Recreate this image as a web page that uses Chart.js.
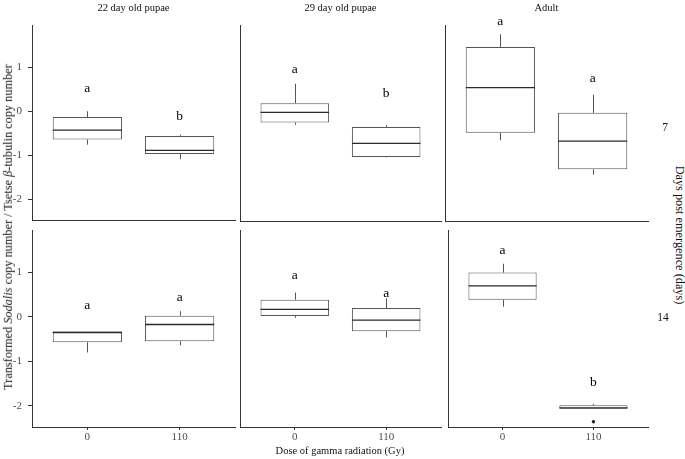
<!DOCTYPE html>
<html>
<head>
<meta charset="utf-8">
<script src="https://cdn.jsdelivr.net/npm/chart.js@4.4.1/dist/chart.umd.min.js"></script>
<style>
  html, body { margin: 0; padding: 0; background: #fff; }
  body { width: 685px; height: 459px; position: relative; overflow: hidden;
         font-family: "Liberation Serif", "Times New Roman", serif; }
  canvas { position: absolute; }
  .t { position: absolute; white-space: nowrap; color: #111; font-size: 10.5px;
       transform: translate(-50%, -50%); line-height: 1; }
  .rot-l { transform: translate(-50%, -50%) rotate(-90deg); }
  .rot-r { transform: translate(-50%, -50%) rotate(90deg); }
</style>
</head>
<body>
<div id="host"></div>
<script>
// ---------------- data ----------------
const stages = ['22 day old pupae', '29 day old pupae', 'Adult'];
const daysPost = ['7', '14'];
const doses = ['0', '110'];
const yTicks = [-2, -1, 0, 1];
const yRange = [-2.48, 1.96];

// indexed [row: days post emergence][stage][dose]
const whiskerLow = [
  [[-0.76, -1.09], [-0.30, -1.04], [-0.65, -1.43]],
  [[-0.80, -0.64], [-0.02, -0.46], [0.23, -2.07]]
];
const lowerQuartile = [
  [[-0.64, -0.97], [-0.25, -1.03], [-0.48, -1.31]],
  [[-0.57, -0.55], [0.02, -0.32], [0.39, -2.07]]
];
const medians = [
  [[-0.43, -0.89], [-0.02, -0.72], [0.54, -0.67]],
  [[-0.35, -0.17], [0.17, -0.07], [0.70, -2.05]]
];
const upperQuartile = [
  [[-0.13, -0.56], [0.19, -0.35], [1.46, -0.03]],
  [[-0.33, 0.03], [0.39, 0.20], [1.00, -1.99]]
];
const whiskerHigh = [
  [[0.00, -0.53], [0.63, -0.31], [1.75, 0.38]],
  [[-0.33, 0.13], [0.55, 0.42], [1.20, -1.96]]
];
const outlierValues = [
  [[[], []], [[], []], [[], []]],
  [[[], []], [[], []], [[], [-2.36]]]
];
const letters = [
  [['a', 'b'], ['a', 'b'], ['a', 'a']],
  [['a', 'a'], ['a', 'a'], ['a', 'b']]
];
const letterHeights = [
  [[0.51, -0.12], [0.96, 0.41], [2.04, 0.76]],
  [[0.27, 0.45], [0.94, 0.54], [1.49, -1.48]]
];

// ---------------- layout ----------------
const colLeft = [32, 240, 445];
const colRight = [235, 441, 648];
const rowTop = [25, 230];
const rowBottom = [221, 427];
const PADTOP = 16;
const AXIS = '#333333';
const BOX = '#555555';
const TICKTXT = '#4d4d4d';
const FONT = "'Liberation Serif', 'Times New Roman', serif";

Chart.defaults.font.family = FONT;

const boxExtras = {
  id: 'boxExtras',
  afterDatasetsDraw(chart, args, opts) {
    const { r, c } = opts;
    const ctx = chart.ctx;
    const x = chart.scales.x, y = chart.scales.y;
    const bars = chart.getDatasetMeta(0).data;
    ctx.save();
    bars.forEach((bar, i) => {
      const p = bar.getProps(['x', 'width'], true);
      const cx = Math.round(p.x) + 0.5;
      // whiskers
      ctx.strokeStyle = BOX;
      ctx.lineWidth = 1;
      ctx.beginPath();
      ctx.moveTo(cx, y.getPixelForValue(upperQuartile[r][c][i]));
      ctx.lineTo(cx, y.getPixelForValue(whiskerHigh[r][c][i]));
      ctx.moveTo(cx, y.getPixelForValue(lowerQuartile[r][c][i]));
      ctx.lineTo(cx, y.getPixelForValue(whiskerLow[r][c][i]));
      ctx.stroke();
      // median
      ctx.strokeStyle = '#2a2a2a';
      ctx.lineWidth = 1.3;
      const my = y.getPixelForValue(medians[r][c][i]);
      ctx.beginPath();
      ctx.moveTo(p.x - p.width / 2, my);
      ctx.lineTo(p.x + p.width / 2, my);
      ctx.stroke();
      // significance letter
      ctx.fillStyle = '#000';
      ctx.font = '13.5px ' + FONT;
      ctx.textAlign = 'center';
      ctx.textBaseline = 'middle';
      ctx.fillText(letters[r][c][i], x.getPixelForValue(i + 1), y.getPixelForValue(letterHeights[r][c][i]));
    });
    ctx.restore();
  }
};

const host = document.getElementById('host');
for (let r = 0; r < 2; r++) {
  for (let c = 0; c < 3; c++) {
    const axisW = c === 0 ? 32 : 1;
    const bottomH = r === 1 ? 24 : 12;
    const cv = document.createElement('canvas');
    const w = colRight[c] - colLeft[c] + axisW + 4;
    const h = PADTOP + rowBottom[r] - rowTop[r] + bottomH;
    cv.width = w; cv.height = h;
    cv.style.left = (colLeft[c] - axisW) + 'px';
    cv.style.top = (rowTop[r] - PADTOP) + 'px';
    cv.style.width = w + 'px'; cv.style.height = h + 'px';
    host.appendChild(cv);

    const boxData = doses.map((d, i) => ({ x: i + 1, y: [lowerQuartile[r][c][i], upperQuartile[r][c][i]] }));
    const outData = [];
    doses.forEach((d, i) => outlierValues[r][c][i].forEach(v => outData.push({ x: i + 1, y: v })));

    new Chart(cv, {
      type: 'bar',
      data: {
        datasets: [
          {
            type: 'bar', data: boxData,
            backgroundColor: '#ffffff', borderColor: BOX, borderWidth: 1,
            borderSkipped: false, categoryPercentage: 1, barPercentage: 0.75, grouped: false
          },
          {
            type: 'scatter', data: outData,
            pointRadius: 1.7, pointBackgroundColor: '#222', pointBorderWidth: 0
          }
        ]
      },
      options: {
        responsive: false, animation: false, events: [],
        layout: { padding: { top: PADTOP, right: 4, bottom: 0, left: 0 } },
        plugins: { legend: { display: false }, tooltip: { enabled: false }, boxExtras: { r, c } },
        scales: {
          x: {
            type: 'linear', min: 0.4, max: 2.6, offset: false,
            grid: { display: r === 1, offset: false, drawOnChartArea: false, drawTicks: true,
                    tickLength: 3, tickColor: AXIS, tickWidth: 1 },
            border: { display: true, color: AXIS, width: 1 },
            ticks: { display: r === 1, padding: 1, color: TICKTXT, font: { size: 11, family: FONT },
                     maxRotation: 0, callback: (v) => doses[v - 1] },
            afterBuildTicks: (s) => { s.ticks = doses.map((d, i) => ({ value: i + 1 })); },
            afterFit: (s) => { s.height = bottomH; }
          },
          y: {
            type: 'linear', min: yRange[0], max: yRange[1],
            grid: { display: c === 0, drawOnChartArea: false, drawTicks: true,
                    tickLength: 4, tickColor: AXIS, tickWidth: 1 },
            border: { display: true, color: AXIS, width: 1 },
            ticks: { display: c === 0, padding: 6, color: TICKTXT, font: { size: 11, family: FONT },
                     callback: (v) => String(v) },
            afterBuildTicks: (s) => { s.ticks = yTicks.map(v => ({ value: v })); },
            afterFit: (s) => { s.width = axisW; }
          }
        }
      },
      plugins: [boxExtras]
    });
  }
}

// ---------------- text ----------------
function addText(html, x, y, cls, size) {
  const d = document.createElement('div');
  d.className = 't' + (cls ? ' ' + cls : '');
  d.innerHTML = html;
  d.style.left = x + 'px';
  d.style.top = y + 'px';
  if (size) d.style.fontSize = size + 'px';
  document.body.appendChild(d);
}
stages.forEach((s, c) => addText(s, (colLeft[c] + colRight[c]) / 2, 8));
addText(daysPost[0], 665, 128, '', 11.5);
addText(daysPost[1], 663, 318, '', 11.5);
addText('Days post emergence (days)', 680, 235, 'rot-r', 12.3);
addText('Dose of gamma radiation (Gy)', 340, 451, '', 10.5);
addText('Transformed <i>Sodalis</i> copy number / Tsetse <i>β</i>-tubulin copy number', 8, 227, 'rot-l', 12.3);
</script>
</body>
</html>
